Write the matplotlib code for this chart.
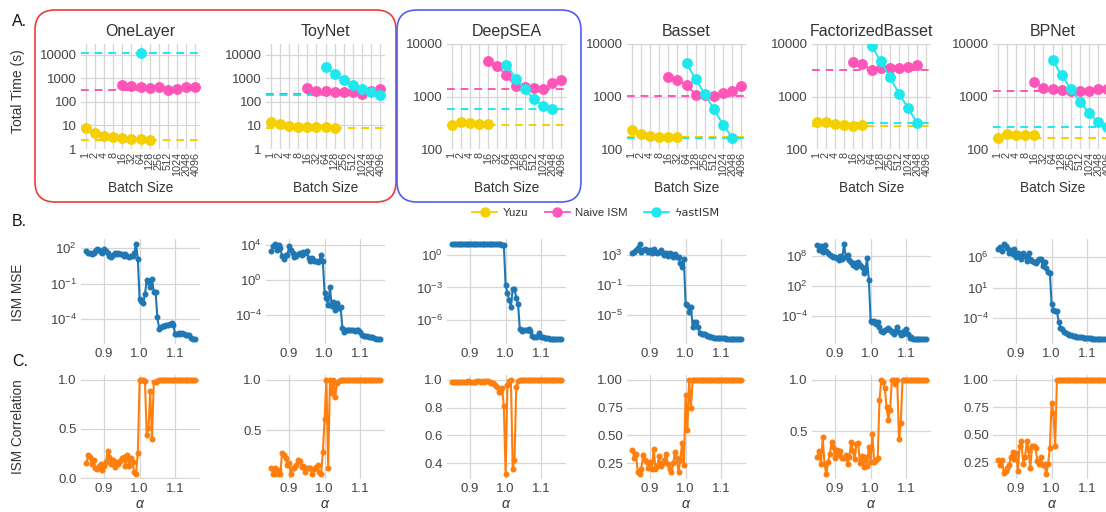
import numpy as np
import matplotlib.pyplot as plt
from matplotlib.lines import Line2D
from matplotlib.patches import FancyBboxPatch
from matplotlib.ticker import NullLocator

plt.rcParams['font.family'] = ['Liberation Sans', 'DejaVu Sans']
plt.rcParams['text.color'] = '#333333'
plt.rcParams['mathtext.fontset'] = 'custom'
plt.rcParams['mathtext.rm'] = 'Liberation Sans'
plt.rcParams['mathtext.it'] = 'Liberation Sans:italic'

nan = np.nan

# ---------------- data ----------------
models = ["OneLayer", "ToyNet", "DeepSEA", "Basset", "FactorizedBasset", "BPNet"]
batch_labels = ["1", "2", "4", "8", "16", "32", "64", "128", "256", "512", "1024", "2048", "4096"]

# total time (s) per batch size
yuzu_onelayer = [7.5, 4.6, 3.5, 3.1, 2.9, 2.7, 2.6, 2.5, nan, nan, nan, nan, nan]
naive_onelayer = [nan, nan, nan, nan, 524, 490, 445, 405, 415, 335, 355, 415, 445]
fast_onelayer = [nan, nan, nan, nan, nan, nan, 11500, nan, nan, nan, nan, nan, nan]

yuzu_toynet = [13.4, 11.4, 9.4, 8.8, 8.5, 8.2, 8.2, 8.0, nan, nan, nan, nan, nan]
naive_toynet = [nan, nan, nan, nan, 390, 300, 290, 255, 270, 255, 225, 290, 350]
fast_toynet = [nan, nan, nan, nan, nan, nan, 3000, 1580, 880, 510, 355, 255, 200]

yuzu_deepsea = [290, 326, 307, 302, 302, nan, nan, nan, nan, nan, nan, nan, nan]
naive_deepsea = [nan, nan, nan, nan, 4800, 3780, 2540, 1560, 1530, 1470, 1420, 1780, 2040]
fast_deepsea = [nan, nan, nan, nan, nan, nan, 4060, 2190, 1370, 900, 650, 570, nan]

yuzu_basset = [229, 197, 180, 173, 168, 168, nan, nan, nan, nan, nan, nan, nan]
naive_basset = [nan, nan, nan, nan, 2320, 2060, 1650, 1090, 1090, 1030, 1170, 1300, 1600]
fast_basset = [nan, nan, nan, nan, nan, nan, 4310, 2120, 1110, 570, 290, 165, nan]

yuzu_factbasset = [330, 320, 300, 281, 278, 281, nan, nan, nan, nan, nan, nan, nan]
naive_factbasset = [nan, nan, nan, nan, 4580, 4180, 3160, 3460, 3510, 3560, 3720, 3950, nan]
fast_factbasset = [nan, nan, nan, nan, nan, nan, 9300, 4700, 2360, 1140, 606, 307, nan]

yuzu_bpnet = [160, 192, 186, 183, 183, nan, nan, nan, nan, nan, nan, nan, nan]
naive_bpnet = [nan, nan, nan, nan, 1910, 1470, 1400, 1340, 1290, 1250, 1290, 1360, 1420]
fast_bpnet = [nan, nan, nan, nan, nan, nan, 4900, 2570, 1400, 800, 480, 325, 260]

alpha = [0.850, 0.855, 0.860, 0.865, 0.870, 0.875, 0.880, 0.885, 0.890, 0.895,
         0.900, 0.905, 0.910, 0.915, 0.920, 0.925, 0.930, 0.935, 0.940, 0.945,
         0.950, 0.955, 0.960, 0.965, 0.970, 0.975, 0.980, 0.985, 0.990, 0.995,
         1.000, 1.005, 1.010, 1.015, 1.020, 1.025, 1.030, 1.035, 1.040, 1.045,
         1.050, 1.055, 1.060, 1.065, 1.070, 1.075, 1.080, 1.085, 1.090, 1.095,
         1.100, 1.105, 1.110, 1.115, 1.120, 1.125, 1.130, 1.135, 1.140, 1.145,
         1.150, 1.155]

# ISM MSE, stored as log10
mse_log_onelayer = [1.72, 1.63, 1.55, 1.52, 1.6, 1.8, 1.9, 1.85, 1.66, 1.58,
                    1.9, 1.72, 1.55, 1.3, 1.25, 1.42, 1.58, 1.5, 1.58, 1.47,
                    1.52, 1.35, 1.52, 1.3, 1.25, 1.3, 1.3, 1.6, 2.37, 1.07,
                    -2.31, -2.5, -2.65, -1.9, -0.73, -0.82, -1.24, -0.62, -1.66, -1.66,
                    -3.83, -4.79, -4.62, -4.55, -4.55, -4.5, -4.5, -4.4, -4.28, -4.48,
                    -5.24, -5.24, -5.2, -5.25, -5.2, -5.28, -5.3, -5.32, -5.35, -5.62,
                    -5.68, -5.69]
mse_log_toynet = [3.24, 3.81, 4.11, 3.43, 4.0, 3.62, 2.67, 2.36, 2.86, 2.86,
                  3.81, 3.43, 3.05, 2.59, 2.74, 2.97, 3.05, 2.86, 3.12, 3.05,
                  3.31, 2.48, 2.1, 2.48, 2.1, 2.1, 2.02, 2.1, 2.86, 2.1,
                  -1.52, -2.1, -2.86, -0.84, -2.97, -2.48, -3.43, -2.67, -3.24, -3.05,
                  -5.41, -5.9, -5.64, -5.64, -5.68, -5.71, -5.64, -5.79, -5.71, -5.71,
                  -5.9, -6.29, -6.4, -6.4, -6.4, -6.44, -6.48, -6.48, -6.55, -6.67,
                  -6.74, -6.7]
mse_log_deepsea = [1.06, 1.06, 1.06, 1.06, 1.06, 1.06, 1.06, 1.06, 1.06, 1.06,
                   1.06, 1.06, 1.06, 1.06, 1.06, 1.06, 1.06, 1.06, 1.06, 1.06,
                   1.06, 1.06, 1.06, 1.05, 1.05, 1.04, 1.03, 1.01, 0.99, 0.94,
                   -2.81, -3.5, -4.19, -4.81, -3.12, -3.12, -3.97, -4.5, -6.87, -7.0,
                   -6.94, -6.94, -6.94, -6.87, -7.0, -7.5, -7.56, -7.56, -7.5, -7.25,
                   -7.56, -7.63, -7.66, -7.72, -7.72, -7.75, -7.75, -7.78, -7.78, -7.81,
                   -7.81, -7.81]
mse_log_basset = [3.31, 3.44, 3.67, 3.89, 4.47, 3.44, 3.58, 3.76, 3.67, 3.44,
                  3.58, 3.31, 3.76, 3.44, 3.22, 3.44, 3.67, 3.22, 3.0, 3.22,
                  2.87, 3.31, 3.13, 2.69, 3.13, 2.78, 2.7, 1.9, 1.45, 2.4,
                  -3.53, -3.67, -4.56, -3.9, -6.56, -5.9, -5.9, -6.56, -7.36, -7.44,
                  -7.44, -7.53, -7.8, -7.8, -7.89, -7.93, -7.98, -7.98, -7.98, -8.02,
                  -8.02, -8.07, -8.07, -8.11, -8.11, -8.11, -8.16, -8.16, -8.16, -8.2,
                  -8.2, -8.2]
mse_log_factbasset = [10.21, 9.21, 10.01, 8.87, 10.21, 9.07, 8.54, 8.2, 8.0, 7.87,
                      7.87, 7.53, 7.19, 8.0, 7.33, 10.42, 7.87, 8.2, 7.19, 6.86,
                      6.19, 6.52, 5.72, 6.86, 6.19, 5.72, 4.51, 5.18, 7.5, 3.3,
                      -4.89, -5.22, -5.02, -5.56, -5.22, -6.23, -6.9, -7.23, -6.77, -6.56,
                      -6.36, -6.77, -7.23, -7.57, -6.9, -6.23, -7.23, -7.7, -7.57, -6.9,
                      -6.56, -7.57, -8.38, -8.1, -8.58, -8.58, -8.58, -8.58, -8.58, -8.58,
                      -8.58, -8.58]
mse_log_bpnet = [7.33, 7.67, 7.11, 8.22, 7.78, 7.5, 6.67, 7.22, 6.56, 7.33,
                 6.11, 6.78, 6.39, 5.67, 6.67, 6.22, 5.44, 6.78, 5.67, 5.44,
                 5.28, 5.0, 5.44, 5.67, 5.67, 4.56, 5.28, 4.17, 3.61, 3.44,
                 -1.67, -2.67, -2.78, -2.89, -4.56, -5.56, -5.83, -6.22, -6.39, -6.56,
                 -6.67, -6.78, -6.89, -6.94, -7.0, -7.06, -7.11, -7.11, -7.17, -7.22,
                 -7.22, -7.28, -7.28, -7.33, -7.33, -7.33, -7.39, -7.39, -7.39, -7.44,
                 -7.44, -7.44]

# ISM correlation
corr_onelayer = [0.15, 0.24, 0.22, 0.14, 0.19, 0.10, 0.09, 0.12, 0.14, 0.08,
                 0.12, 0.16, 0.28, 0.22, 0.14, 0.19, 0.11, 0.16, 0.14, 0.17,
                 0.21, 0.22, 0.12, 0.24, 0.12, 0.21, 0.16, 0.06, 0.04, 0.26,
                 1.0, 1.0, 1.0, 0.99, 0.44, 0.51, 0.89, 0.40, 0.98, 0.98,
                 0.99, 1.0, 1.0, 1.0, 1.0, 1.0, 1.0, 1.0, 1.0, 1.0,
                 1.0, 1.0, 1.0, 1.0, 1.0, 1.0, 1.0, 1.0, 1.0, 1.0,
                 1.0, 1.0]
corr_toynet = [0.12, 0.06, 0.12, 0.06, 0.10, 0.06, 0.27, 0.25, 0.22, 0.15,
               0.17, 0.06, 0.12, 0.12, 0.15, 0.20, 0.19, 0.13, 0.14, 0.08,
               0.12, 0.12, 0.12, 0.06, 0.11, 0.13, 0.15, 0.08, 0.06, 0.28,
               0.61, 1.0, 0.12, 1.0, 0.87, 1.0, 0.83, 0.97, 0.99, 1.0,
               1.0, 1.0, 1.0, 1.0, 1.0, 1.0, 1.0, 1.0, 1.0, 1.0,
               1.0, 1.0, 1.0, 1.0, 1.0, 1.0, 1.0, 1.0, 1.0, 1.0,
               1.0, 1.0]
corr_deepsea = [0.985, 0.985, 0.985, 0.985, 0.985, 0.985, 0.985, 0.985, 0.985, 0.99,
                0.985, 0.985, 0.985, 0.985, 0.99, 0.99, 0.985, 0.99, 0.985, 0.99,
                0.99, 0.985, 0.98, 0.975, 0.965, 0.95, 0.915, 0.915, 0.94, 0.81,
                0.32, 0.96, 0.99, 1.0, 0.36, 0.42, 0.945, 0.99, 1.0, 1.0,
                1.0, 1.0, 1.0, 1.0, 1.0, 1.0, 1.0, 1.0, 1.0, 1.0,
                1.0, 1.0, 1.0, 1.0, 1.0, 1.0, 1.0, 1.0, 1.0, 1.0,
                1.0, 1.0]
corr_basset = [0.37, 0.30, 0.33, 0.17, 0.15, 0.20, 0.32, 0.28, 0.26, 0.21,
               0.26, 0.20, 0.38, 0.20, 0.22, 0.31, 0.22, 0.25, 0.28, 0.33,
               0.24, 0.20, 0.17, 0.25, 0.35, 0.30, 0.17, 0.28, 0.43, 0.23,
               0.86, 0.55, 1.0, 0.75, 1.0, 1.0, 1.0, 1.0, 1.0, 1.0,
               1.0, 1.0, 1.0, 1.0, 1.0, 1.0, 1.0, 1.0, 1.0, 1.0,
               1.0, 1.0, 1.0, 1.0, 1.0, 1.0, 1.0, 1.0, 1.0, 1.0,
               1.0, 1.0]
corr_factbasset = [0.25, 0.31, 0.18, 0.44, 0.18, 0.08, 0.20, 0.28, 0.39, 0.35,
                   0.24, 0.32, 0.27, 0.31, 0.24, 0.24, 0.27, 0.18, 0.25, 0.39,
                   0.31, 0.23, 0.37, 0.38, 0.19, 0.26, 0.15, 0.25, 0.16, 0.35,
                   0.20, 0.47, 0.20, 0.22, 0.24, 0.80, 1.0, 0.98, 0.92, 0.73,
                   0.61, 0.71, 1.0, 1.0, 0.96, 1.0, 0.42, 0.58, 1.0, 1.0,
                   1.0, 1.0, 1.0, 1.0, 1.0, 1.0, 1.0, 1.0, 1.0, 1.0,
                   1.0, 1.0]
corr_bpnet = [0.27, 0.22, 0.27, 0.15, 0.17, 0.20, 0.22, 0.30, 0.34, 0.28,
              0.33, 0.17, 0.40, 0.44, 0.23, 0.30, 0.44, 0.36, 0.20, 0.40,
              0.40, 0.38, 0.26, 0.23, 0.30, 0.22, 0.23, 0.14, 0.23, 0.38,
              0.79, 0.70, 0.40, 1.0, 1.0, 1.0, 1.0, 1.0, 1.0, 1.0,
              1.0, 1.0, 1.0, 1.0, 1.0, 1.0, 1.0, 1.0, 1.0, 1.0,
              1.0, 1.0, 1.0, 1.0, 1.0, 1.0, 1.0, 1.0, 1.0, 1.0,
              1.0, 1.0]

mse_tick_exps = [[2, -1, -4], [4, 0, -4], [0, -3, -6], [3, -1, -5], [8, 2, -4], [6, 1, -4]]
corr_ticks = [["0.0", "0.5", "1.0"], ["0.5", "1.0"], ["0.4", "0.6", "0.8", "1.0"],
              ["0.25", "0.50", "0.75", "1.00"], ["0.5", "1.0"], ["0.25", "0.50", "0.75", "1.00"]]

method_names = ["Yuzu", "Naive ISM", "\u03dfastISM"]
method_colors = ["#f5d000", "#ff55b8", "#1ee8ee"]

times = [
    [yuzu_onelayer, naive_onelayer, fast_onelayer],
    [yuzu_toynet, naive_toynet, fast_toynet],
    [yuzu_deepsea, naive_deepsea, fast_deepsea],
    [yuzu_basset, naive_basset, fast_basset],
    [yuzu_factbasset, naive_factbasset, fast_factbasset],
    [yuzu_bpnet, naive_bpnet, fast_bpnet],
]
mse_logs = [mse_log_onelayer, mse_log_toynet, mse_log_deepsea,
            mse_log_basset, mse_log_factbasset, mse_log_bpnet]
corrs = [corr_onelayer, corr_toynet, corr_deepsea, corr_basset, corr_factbasset, corr_bpnet]

# ---------------- layout (pixels) ----------------
W, H = 1106, 512
fig = plt.figure(figsize=(W / 100, H / 100), dpi=100)

col_left = [81, 266, 447, 627, 812, 993]
col_w = 119
tick_fs = 9.5


def px_axes(left, top, width, height):
    return fig.add_axes([left / W, 1 - (top + height) / H, width / W, height / H])


def style(ax):
    for s in ax.spines.values():
        s.set_visible(False)
    ax.grid(True, color='#d6d6d6', lw=0.9)
    ax.set_axisbelow(True)
    ax.tick_params(length=0, labelsize=tick_fs, colors='#444444', pad=3)


txt = '#333333'
x_cat = np.arange(len(batch_labels))

for k, name in enumerate(models):
    # --- row A: timing
    ax = px_axes(col_left[k], 44, col_w, 105)
    style(ax)
    for vals, c in zip(times[k], method_colors):
        v = np.array(vals, dtype=float)
        ax.axhline(np.nanmin(v), color=c, ls=(0, (4, 3)), lw=1.4, zorder=1)
        ax.plot(x_cat, v, '-o', color=c, lw=1.4, ms=6.8, zorder=3)
    ax.set_yscale('log')
    if k < 2:
        ax.set_ylim(1, 29000)
        yt = [1, 10, 100, 1000, 10000]
    else:
        ax.set_ylim(100, 10000)
        yt = [100, 1000, 10000]
    ax.set_yticks(yt, [str(t) for t in yt])
    ax.yaxis.set_minor_locator(NullLocator())
    ax.set_xlim(-0.5, 12.5)
    ax.set_xticks(x_cat, batch_labels, rotation=90)
    ax.tick_params(axis='x', labelsize=7.8, pad=2)
    ax.set_title(name, fontsize=11.5, color=txt, pad=6)
    ax.set_xlabel("Batch Size", fontsize=9.8, color=txt, labelpad=4)

    # --- row B: ISM MSE
    ax = px_axes(col_left[k], 239, col_w, 105)
    style(ax)
    ax.plot(alpha, 10.0 ** np.array(mse_logs[k]), '-o', color='#1f77b4', lw=1.5, ms=3.3)
    ax.set_yscale('log')
    ex = mse_tick_exps[k]
    ax.set_yticks([10.0 ** e for e in ex], ['$10^{%d}$' % e for e in ex])
    ax.yaxis.set_minor_locator(NullLocator())
    ax.set_xticks([0.9, 1.0, 1.1], ["0.9", "1.0", "1.1"])

    # --- row C: ISM correlation
    ax = px_axes(col_left[k], 375, col_w, 104)
    style(ax)
    ax.plot(alpha, corrs[k], '-o', color='#ff7f0e', lw=1.5, ms=3.3)
    ax.set_yticks([float(t) for t in corr_ticks[k]], corr_ticks[k])
    ax.set_xticks([0.9, 1.0, 1.1], ["0.9", "1.0", "1.1"])
    ax.set_xlabel(r'$\alpha$', fontsize=10, color=txt, labelpad=1)

# row labels
fig.text(18 / W, 1 - 91 / H, "Total Time (s)", rotation=90, ha='center', va='center', fontsize=10, color=txt)
fig.text(18 / W, 1 - 292 / H, "ISM MSE", rotation=90, ha='center', va='center', fontsize=9.8, color=txt)
fig.text(18 / W, 1 - 427 / H, "ISM Correlation", rotation=90, ha='center', va='center', fontsize=9.8, color=txt)

for lab, yy in [("A.", 22), ("B.", 222), ("C.", 362)]:
    fig.text(12 / W, 1 - yy / H, lab, ha='left', va='center', fontsize=11.5, color='#111111')

# legend
handles = [Line2D([], [], color=c, marker='o', ms=6.5, lw=1.3) for c in method_colors]
leg = fig.legend(handles, method_names, loc='center', bbox_to_anchor=(596 / W, 1 - 213 / H),
                 ncol=3, frameon=False, fontsize=8.2, handlelength=2.2, columnspacing=1.4,
                 handletextpad=0.5, labelcolor='#333333')
leg.get_texts()[2].set_fontfamily(['DejaVu Sans'])

# rounded boxes around the first panels
box_red = FancyBboxPatch((0.35, (H - 202) / 100), 3.61, 1.92,
                         boxstyle="round,pad=0,rounding_size=0.2",
                         transform=fig.dpi_scale_trans, fill=False,
                         edgecolor='#f03a3a', lw=1.2)
box_blue = FancyBboxPatch((3.97, (H - 202) / 100), 1.84, 1.92,
                          boxstyle="round,pad=0,rounding_size=0.2",
                          transform=fig.dpi_scale_trans, fill=False,
                          edgecolor='#4f5ff0', lw=1.2)
fig.add_artist(box_red)
fig.add_artist(box_blue)

fig.savefig("out.png", dpi=100)
